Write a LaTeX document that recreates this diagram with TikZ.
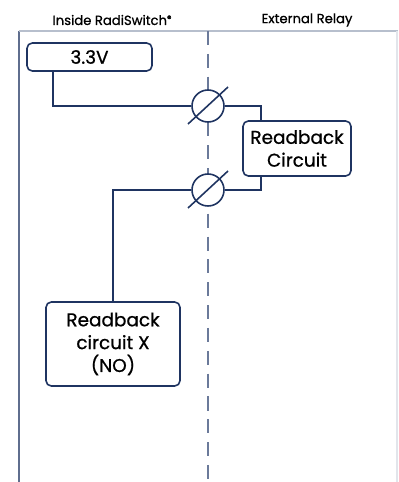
\documentclass[tikz,border=0pt]{standalone}
\usepackage{fontspec}
\setmainfont{Poppins}[FakeBold=0.8]
\usetikzlibrary{positioning}
\definecolor{wirecol}{HTML}{1F3461}
\definecolor{edgecol}{HTML}{5F6E8E}
\definecolor{topcol}{HTML}{B7BFCD}
\definecolor{dashcol}{HTML}{6B7A9A}

\begin{document}
\begin{tikzpicture}[x=0.02cm, y=-0.02cm,
  wire/.style={draw=wirecol, line width=0.9pt},
  box/.style={draw=wirecol, line width=0.9pt, rounded corners=3pt, align=center,
    inner sep=0pt, font=\fontsize{10.5}{13}\selectfont, text=black},
  contact/.style={circle, draw=wirecol, line width=0.9pt, fill=white,
    minimum size=0.64cm, inner sep=0pt},
  heading/.style={font=\fontsize{7.5}{9}\selectfont, text=black}]
  \useasboundingbox (0,0) rectangle (398,482);

  % frame and divider
  \draw [edgecol, line width=0.8pt] (19,482) -- (19,31);
  \draw [topcol, line width=0.8pt] (19,31) -- (398,31);
  \draw [topcol!40, line width=0.6pt] (397,31) -- (397,482);
  \draw [dashcol, line width=0.6pt, dash pattern=on 8pt off 5pt] (208,31) -- (208,482);

  % column titles
  \node [heading] (inside) at (112,20) {Inside RadiSwitch\raisebox{0.45ex}{\fontsize{5}{5}\selectfont ®}};
  \node [heading] (relay) at (307,20) {External Relay};

  % blocks
  \node [box, minimum width=2.5cm, minimum height=0.56cm] (v33) at (89.5,57) {3.3V};
  \node [box, minimum width=2.16cm, minimum height=1.1cm] (rb) at (297,148.5) {Readback\\Circuit};
  \node [box, minimum width=2.68cm, minimum height=1.68cm] (rbx) at (113,344) {Readback\\circuit X\\(NO)};

  % contacts
  \node [contact] (c1) at (208,106) {};
  \node [contact] (c2) at (208,190) {};
  \draw [wire, shift={(c1.center)}] (-20,18) -- (20,-19);
  \draw [wire, shift={(c2.center)}] (-20,18) -- (20,-19);

  % wiring
  \draw [wire] ([xshift=0.54cm]v33.south west) |- (c1.west);
  \draw [wire] (c1.east) -| ([xshift=0.38cm]rb.north west);
  \draw [wire] ([xshift=0.38cm]rb.south west) |- (c2.east);
  \draw [wire] (c2.west) -| (rbx.north);
\end{tikzpicture}
\end{document}
